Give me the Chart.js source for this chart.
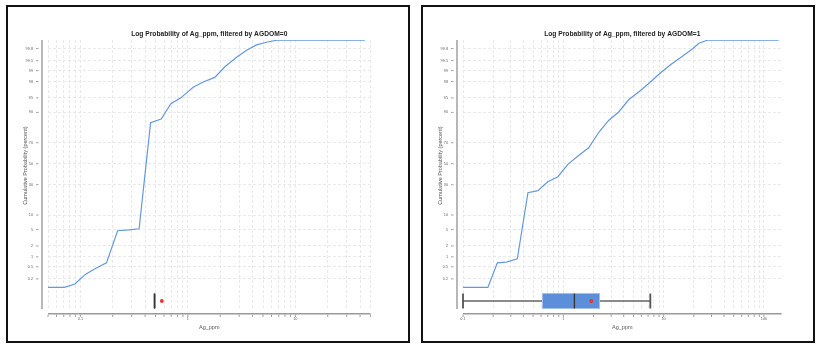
<!DOCTYPE html>
<html>
<head>
<meta charset="utf-8">
<script src="https://cdn.jsdelivr.net/npm/chart.js@4.4.1/dist/chart.umd.min.js"></script>
<style>
  html, body { margin: 0; padding: 0; background: #fff; }
  body { width: 816px; height: 345px; position: relative; overflow: hidden; }
  .panel { position: absolute; top: 5px; height: 334px; border: 2px solid #111; }
  #p0 { left: 6px; width: 400px; }
  #p1 { left: 421px; width: 390px; }
  .panel canvas { display: block; }
</style>
</head>
<body>
<div class="panel" id="p0"><canvas id="c0" width="400" height="334"></canvas></div>
<div class="panel" id="p1"><canvas id="c1" width="390" height="334"></canvas></div>
<script>
// AGDOM=0 : Ag_ppm value vs cumulative probability (percent)
const ag0Values = [0.05, 0.071, 0.089, 0.112, 0.141, 0.175, 0.222, 0.284, 0.352, 0.45, 0.565, 0.695, 0.86, 1.12, 1.39, 1.78, 2.21, 2.84, 3.52, 4.35, 5.4, 6.92, 44.3];
const ag0CumPct = [0.1, 0.1, 0.133, 0.29, 0.46, 0.66, 4.7, 4.9, 5.2, 84.7, 86.8, 93.3, 95.0, 97.2, 97.94, 98.45, 99.23, 99.61, 99.77, 99.85, 99.88, 99.9, 99.9];
// box plot: min, q1, median, q3, max
const ag0Box = [0.49, 0.49, 0.49, 0.49, 0.49];
const ag0Mean = 0.573;

// AGDOM=1
const ag1Values = [0.1, 0.177, 0.22, 0.27, 0.348, 0.444, 0.558, 0.70, 0.883, 1.11, 1.40, 1.79, 2.26, 2.83, 3.56, 4.48, 5.76, 7.25, 9.27, 11.9, 15.4, 19.6, 22.5, 27.7, 140];
const ag1CumPct = [0.1, 0.1, 0.66, 0.70, 0.87, 23.4, 25.0, 32.6, 37.3, 49.4, 57.6, 65.5, 78.4, 86.0, 90.2, 94.5, 96.5, 97.85, 98.83, 99.35, 99.64, 99.80, 99.87, 99.9, 99.9];
const ag1Box = [0.1, 0.62, 1.29, 2.3, 7.37];
const ag1Mean = 1.9;

// axis ticks
const probTicks = [0.2, 0.5, 1, 2, 5, 10, 30, 50, 70, 90, 95, 98, 99, 99.5, 99.8];
const probLabels = ['0.2', '0.5', '1', '2', '5', '10', '30', '50', '70', '90', '95', '98', '99', '99.5', '99.8'];
const xTicks0 = [0.05, 0.06, 0.07, 0.08, 0.09, 0.1, 0.2, 0.3, 0.4, 0.5, 0.6, 0.7, 0.8, 0.9, 1, 2, 3, 4, 5, 6, 7, 8, 9, 10, 20, 30, 40, 50];
const xTicks1 = [0.1, 0.2, 0.3, 0.4, 0.5, 0.6, 0.7, 0.8, 0.9, 1, 2, 3, 4, 5, 6, 7, 8, 9, 10, 20, 30, 40, 50, 60, 70, 80, 90, 100];
const xLabelled = [0.1, 1, 10, 100];

const FONT = '"Liberation Sans", Arial, Helvetica, sans-serif';
const BOX_ROW = -3.43; // probit position of the box plot row

// inverse normal cdf (Acklam)
function probit(p) {
  const a = [-39.69683028665376, 220.9460984245205, -275.9285104469687, 138.3577518672690, -30.66479806614716, 2.506628277459239];
  const b = [-54.47609879822406, 161.5858368580409, -155.6989798598866, 66.80131188771972, -13.28068155288572];
  const c = [-0.007784894002430293, -0.3223964580411365, -2.400758277161838, -2.549732539343734, 4.374664141464968, 2.938163982698783];
  const d = [0.007784695709041462, 0.3224671290700398, 2.445134137142996, 3.754408661907416];
  const pl = 0.02425;
  let q, r;
  if (p < pl) {
    q = Math.sqrt(-2 * Math.log(p));
    return (((((c[0]*q+c[1])*q+c[2])*q+c[3])*q+c[4])*q+c[5]) / ((((d[0]*q+d[1])*q+d[2])*q+d[3])*q+1);
  }
  if (p <= 1 - pl) {
    q = p - 0.5; r = q * q;
    return (((((a[0]*r+a[1])*r+a[2])*r+a[3])*r+a[4])*r+a[5])*q / (((((b[0]*r+b[1])*r+b[2])*r+b[3])*r+b[4])*r+1);
  }
  q = Math.sqrt(-2 * Math.log(1 - p));
  return -(((((c[0]*q+c[1])*q+c[2])*q+c[3])*q+c[4])*q+c[5]) / ((((d[0]*q+d[1])*q+d[2])*q+d[3])*q+1);
}

const offsetAxes = {
  id: 'offsetAxes',
  afterDraw(chart) {
    const {ctx, chartArea: a, scales: {x, y}} = chart;
    ctx.save();
    ctx.strokeStyle = '#9a9a9a';
    ctx.lineWidth = 1.4;
    ctx.beginPath();
    ctx.moveTo(a.left - 6, a.top); ctx.lineTo(a.left - 6, a.bottom);
    ctx.moveTo(a.left, a.bottom + 4.7); ctx.lineTo(a.right, a.bottom + 4.7);
    ctx.stroke();
    ctx.lineWidth = 0.8;
    ctx.strokeStyle = '#8a8a8a';
    ctx.beginPath();
    y.ticks.forEach(t => {
      const py = y.getPixelForValue(t.value);
      ctx.moveTo(a.left - 12, py); ctx.lineTo(a.left - 9.5, py);
    });
    x.ticks.forEach(t => {
      const px = x.getPixelForValue(t.value);
      ctx.moveTo(px, a.bottom + 5.5); ctx.lineTo(px, a.bottom + 8);
    });
    ctx.stroke();
    // y axis title, sitting a little above the plot's middle as in the source
    ctx.translate(a.left - 23, a.top + 125.5);
    ctx.rotate(-Math.PI / 2);
    ctx.fillStyle = '#555';
    ctx.font = '5.5px ' + FONT;
    ctx.textAlign = 'center';
    ctx.textBaseline = 'middle';
    ctx.fillText('Cumulative Probability (percent)', 0, 0);
    ctx.restore();
  }
};

const boxStats = {
  id: 'boxStats',
  afterDatasetsDraw(chart, args, opts) {
    const {ctx, scales: {x, y}} = chart;
    const [mn, q1, med, q3, mx] = opts.box.map(v => x.getPixelForValue(v));
    const cy = y.getPixelForValue(BOX_ROW);
    const h = 7.5;
    ctx.save();
    ctx.strokeStyle = '#666';
    ctx.lineWidth = 1.3;
    ctx.beginPath();
    ctx.moveTo(mn, cy); ctx.lineTo(q1, cy);
    ctx.moveTo(q3, cy); ctx.lineTo(mx, cy);
    ctx.stroke();
    if (q3 - q1 > 0.5) {
      ctx.fillStyle = '#5b8fd9';
      ctx.fillRect(q1, cy - h, q3 - q1, 2 * h);
      ctx.strokeStyle = '#a3c1ec';
      ctx.lineWidth = 1;
      ctx.strokeRect(q1, cy - h, q3 - q1, 2 * h);
    }
    ctx.strokeStyle = '#555';
    ctx.lineWidth = 1.8;
    ctx.beginPath();
    ctx.moveTo(mn, cy - h); ctx.lineTo(mn, cy + h);
    ctx.moveTo(mx, cy - h); ctx.lineTo(mx, cy + h);
    ctx.stroke();
    ctx.strokeStyle = '#333';
    ctx.lineWidth = 1.3;
    ctx.beginPath();
    ctx.moveTo(med, cy - h); ctx.lineTo(med, cy + h);
    ctx.stroke();
    ctx.fillStyle = '#e8352b';
    ctx.beginPath();
    ctx.arc(x.getPixelForValue(opts.mean), cy, 1.9, 0, Math.PI * 2);
    ctx.fill();
    ctx.restore();
  }
};

function makeChart(id, values, cumPct, box, mean, xMin, xMax, xTicks, title, rightPad) {
  const points = values.map((v, i) => ({x: v, y: probit(cumPct[i] / 100)}));
  return new Chart(document.getElementById(id), {
    type: 'line',
    data: {
      datasets: [{
        data: points,
        borderColor: '#6398df',
        borderWidth: 1.2,
        pointRadius: 0,
        tension: 0,
        fill: false
      }]
    },
    options: {
      responsive: false,
      animation: false,
      layout: {padding: {left: 0, right: rightPad, top: 0, bottom: 0}},
      plugins: {
        legend: {display: false},
        tooltip: {enabled: false},
        title: {
          display: true,
          text: title,
          fullSize: false,
          color: '#222',
          font: {family: FONT, size: 6.7, weight: 'bold'},
          padding: {top: 23, bottom: 2}
        },
        boxStats: {box: box, mean: mean}
      },
      scales: {
        x: {
          type: 'logarithmic',
          min: xMin,
          max: xMax,
          afterBuildTicks: s => { s.ticks = xTicks.map(v => ({value: v})); },
          afterFit: s => { s.height = 32; },
          grid: {color: '#e6e6e6', drawTicks: false, lineWidth: 0.9},
          border: {display: false, dash: [3, 2]},
          ticks: {
            autoSkip: false,
            maxRotation: 0,
            padding: 7.7,
            color: '#666',
            font: {family: FONT, size: 3.8},
            callback: v => xLabelled.includes(v) ? String(v) : ''
          },
          title: {
            display: true,
            text: 'Ag_ppm',
            color: '#555',
            font: {family: FONT, size: 5.5},
            padding: {top: 0, bottom: 10.7}
          }
        },
        y: {
          type: 'linear',
          min: -3.63,
          max: 3.09,
          afterBuildTicks: s => { s.ticks = probTicks.map(p => ({value: probit(p / 100)})); },
          afterFit: s => { s.width = 40; },
          grid: {color: '#e6e6e6', drawTicks: false, lineWidth: 0.9},
          border: {display: false, dash: [3, 2]},
          ticks: {
            autoSkip: false,
            padding: 15,
            color: '#666',
            font: {family: FONT, size: 3.8},
            callback: (v, i) => probLabels[i]
          },
          title: {display: false}
        }
      }
    },
    plugins: [offsetAxes, boxStats]
  });
}

makeChart('c0', ag0Values, ag0CumPct, ag0Box, ag0Mean, 0.05, 50, xTicks0,
  'Log Probability of Ag_ppm, filtered by AGDOM=0', 37.5);
makeChart('c1', ag1Values, ag1CumPct, ag1Box, ag1Mean, 0.1, 150, xTicks1,
  'Log Probability of Ag_ppm, filtered by AGDOM=1', 31.4);
</script>
</body>
</html>
